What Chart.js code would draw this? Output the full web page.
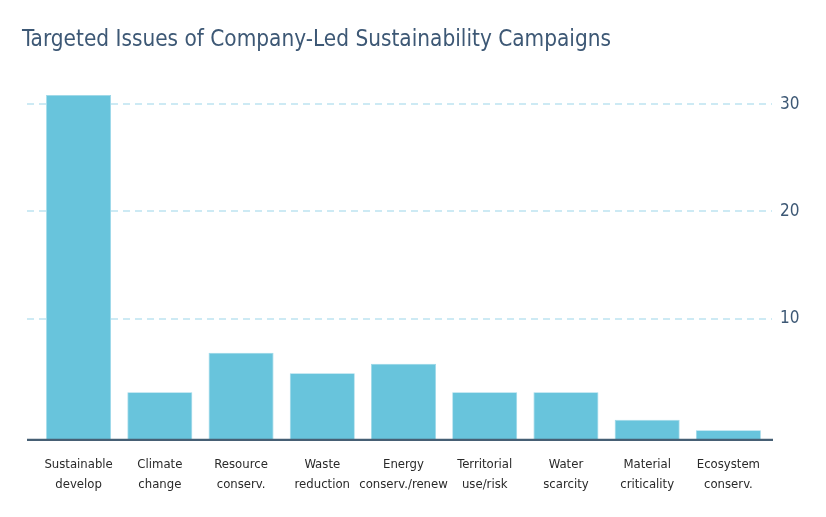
<!DOCTYPE html>
<html><head><meta charset="utf-8">
<script src="https://cdn.jsdelivr.net/npm/chart.js@4.4.0/dist/chart.umd.min.js"></script>
<style>html,body{margin:0;padding:0;background:#fff;}#wrap{width:826px;height:517px;}</style>
</head><body><div id="wrap"><canvas id="c"></canvas></div>
<script>
const categories = [
  ["Sustainable","develop"],["Climate","change"],["Resource","conserv."],["Waste","reduction"],
  ["Energy","conserv./renew"],["Territorial","use/risk"],["Water","scarcity"],["Material","criticality"],["Ecosystem","conserv."]
];
const values = [30.87, 3.14, 6.82, 4.92, 5.79, 3.14, 3.14, 0.56, -0.41];
const yTicks = [10, 20, 30];
const axisMin = -1.31;
const axisMax = 31.9;

const FONT = "'DejaVu Sans Condensed','DejaVu Sans',sans-serif";

const gridPlugin = {
  id: 'customGrid',
  beforeDatasetsDraw(chart) {
    const {ctx, chartArea, scales} = chart;
    const y = scales.y;
    const l = chartArea.left - 11, r = chartArea.right + 3;
    ctx.save();
    ctx.strokeStyle = '#bde4f1';
    ctx.lineWidth = 1.6;
    ctx.setLineDash([7, 5]);
    yTicks.forEach(v => {
      const py = Math.round(y.getPixelForValue(v));
      ctx.beginPath(); ctx.moveTo(l, py); ctx.lineTo(r, py); ctx.stroke();
    });
    ctx.restore();
  },
  afterDatasetsDraw(chart) {
    const {ctx, chartArea, scales} = chart;
    const y = scales.y;
    const l = chartArea.left - 11, r = chartArea.right + 4;
    const py = y.getPixelForValue(axisMin);
    ctx.save();
    ctx.strokeStyle = '#465f74';
    ctx.lineWidth = 2.2;
    ctx.beginPath(); ctx.moveTo(l, py); ctx.lineTo(r, py); ctx.stroke();
    ctx.restore();
  }
};

new Chart(document.getElementById('c'), {
  type: 'bar',
  data: {
    labels: categories,
    datasets: [{
      data: values,
      base: axisMin,
      backgroundColor: '#68c4dc',
      borderColor: '#9ad7e8',
      borderWidth: 0.8,
      barPercentage: 1.0,
      categoryPercentage: 0.8,
      yAxisID: 'y'
    }]
  },
  options: {
    responsive: true,
    maintainAspectRatio: false,
    animation: false,
    devicePixelRatio: 1,
    layout: { padding: { left: 22, right: 27, top: 0, bottom: 8 } },
    plugins: {
      legend: { display: false },
      tooltip: { enabled: false },
      title: {
        display: true,
        text: 'Targeted Issues of Company-Led Sustainability Campaigns',
        align: 'start',
        color: '#3d5875',
        font: { family: FONT, size: 22.4, weight: 'normal', lineHeight: 1.2 },
        padding: { top: 27, bottom: 30 }
      }
    },
    scales: {
      x: {
        grid: { display: false, drawTicks: false },
        border: { display: false },
        ticks: {
          color: '#2a2a2a',
          font: { family: FONT, size: 13, lineHeight: 1.58 },
          maxRotation: 0, autoSkip: false, padding: 14
        }
      },
      yl: {
        position: 'left',
        display: true,
        min: axisMin, max: axisMax,
        grid: { display: false, drawTicks: false },
        border: { display: false },
        ticks: { display: false },
        afterFit(scale) { scale.width = 16; }
      },
      y: {
        position: 'right',
        min: axisMin,
        max: axisMax,
        grid: { display: false, drawTicks: false },
        border: { display: false },
        afterBuildTicks(scale) { scale.ticks = yTicks.map(v => ({ value: v })); },
        afterFit(scale) { scale.width = 30; },
        ticks: {
          color: '#3d5875',
          font: { family: FONT, size: 17 },
          padding: 11,
          callback: (v) => String(v)
        }
      }
    }
  },
  plugins: [gridPlugin]
});
</script>
</body></html>
